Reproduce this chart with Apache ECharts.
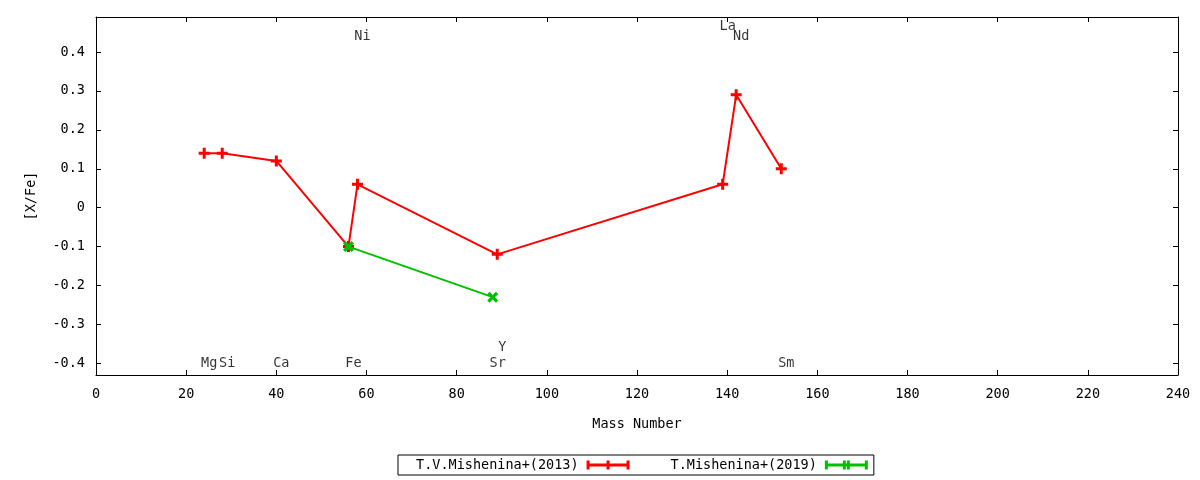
<!DOCTYPE html>
<html>
<head>
<meta charset="utf-8">
<script src="https://cdn.jsdelivr.net/npm/echarts@6/dist/echarts.min.js"></script>
<style>html,body{margin:0;padding:0;background:#fff;}#c{width:1200px;height:480px;}</style>
</head>
<body>
<div id="c"></div>
<script>
// Data
const redName = 'T.V.Mishenina+(2013)';
const greenName = 'T.Mishenina+(2019)';
const redMass = [24, 28, 40, 56, 58, 89, 139, 142, 152];
const redVal = [0.14, 0.14, 0.12, -0.10, 0.06, -0.12, 0.06, 0.29, 0.10];
const greenMass = [56, 88];
const greenVal = [-0.10, -0.23];
const elemNames = ['Mg', 'Si', 'Ca', 'Fe', 'Ni', 'Sr', 'Y', 'La', 'Nd', 'Sm'];
const elemMass = [24, 28, 40, 56, 58, 88, 89, 139, 142, 152];
const elemLabelY = [-0.4, -0.4, -0.4, -0.4, 0.44, -0.4, -0.36, 0.465, 0.44, -0.4];
const yTicks = [-0.4, -0.3, -0.2, -0.1, 0, 0.1, 0.2, 0.3, 0.4];

const FONT = 'DejaVu Sans Mono';
const plusSym = 'path://M4,0H7V4H11V7H7V11H4V7H0V4H4Z';
const crossSym = 'path://M0,2.5L2.5,0L6,3.5L9.5,0L12,2.5L8.5,6L12,9.5L9.5,12L6,8.5L2.5,12L0,9.5L3.5,6Z';
const redIcon = 'path://M0,0H3V9H0Z M3,3H40V6H3Z M40,0H43V9H40Z M20,0H23V9H20Z';
const greenIcon = 'path://M0,0H3V9H0Z M3,3H40V6H3Z M40,0H43V9H40Z M18,0H21V9H18Z M22,0H25V9H22Z';

const axisLineStyle = { show: true, onZero: false, lineStyle: { color: '#000', width: 1 } };
const tickStyle = { show: true, inside: true, length: 5, lineStyle: { color: '#000', width: 1 } };

const chart = echarts.init(document.getElementById('c'), null, { renderer: 'canvas' });
chart.setOption({
  backgroundColor: '#fff',
  animation: false,
  textStyle: { fontFamily: FONT },
  grid: { left: 96, top: 17, width: 1082, height: 358, containLabel: false },
  legend: {
    data: [
      { name: redName, icon: redIcon },
      { name: greenName, icon: greenIcon }
    ],
    left: 398, top: 455,
    align: 'right',
    itemWidth: 43, itemHeight: 9, itemGap: 41,
    padding: [3, 6, 3, 18],
    borderColor: '#000', borderWidth: 1, borderRadius: 0,
    textStyle: { fontFamily: FONT, fontSize: 13.5, color: '#000', padding: [0, 3, 0, 0] },
    selectedMode: false
  },
  xAxis: [
    {
      type: 'value', min: 0, max: 240, interval: 20, position: 'bottom',
      name: 'Mass Number', nameLocation: 'middle', nameGap: 42,
      nameTextStyle: { fontFamily: FONT, fontSize: 13.5, color: '#000' },
      axisLine: axisLineStyle, axisTick: tickStyle,
      axisLabel: { fontFamily: FONT, fontSize: 13.5, color: '#000', margin: 12 },
      splitLine: { show: false }
    },
    {
      type: 'value', min: 0, max: 240, interval: 20, position: 'top',
      axisLine: axisLineStyle, axisTick: tickStyle,
      axisLabel: { show: false }, splitLine: { show: false }
    }
  ],
  yAxis: [
    {
      type: 'value', min: -0.43, max: 0.49, position: 'left',
      name: '[X/Fe]', nameLocation: 'middle', nameGap: 58, nameRotate: 90,
      nameTextStyle: { fontFamily: FONT, fontSize: 13.5, color: '#000' },
      axisLine: axisLineStyle,
      axisTick: Object.assign({}, tickStyle, { customValues: yTicks }),
      axisLabel: {
        fontFamily: FONT, fontSize: 13.5, color: '#000', margin: 11,
        customValues: yTicks,
        formatter: v => String(Math.round(v * 10) / 10)
      },
      splitLine: { show: false }
    },
    {
      type: 'value', min: -0.43, max: 0.49, position: 'right',
      axisLine: axisLineStyle,
      axisTick: Object.assign({}, tickStyle, { customValues: yTicks }),
      axisLabel: { show: false, customValues: yTicks },
      splitLine: { show: false }
    }
  ],
  series: [
    {
      name: redName, type: 'line', xAxisIndex: 0, yAxisIndex: 0,
      data: redMass.map((m, i) => [m, redVal[i]]),
      color: '#ff0000',
      lineStyle: { color: '#ff0000', width: 2 },
      itemStyle: { color: '#ff0000' },
      symbol: plusSym, symbolSize: 11, showAllSymbol: true,
      z: 3
    },
    {
      name: greenName, type: 'line', xAxisIndex: 0, yAxisIndex: 0,
      data: greenMass.map((m, i) => [m, greenVal[i]]),
      color: '#00c000',
      lineStyle: { color: '#00c000', width: 2 },
      itemStyle: { color: '#00c000' },
      symbol: crossSym, symbolSize: 11, showAllSymbol: true,
      z: 4
    },
    {
      name: 'elements', type: 'scatter', xAxisIndex: 0, yAxisIndex: 0,
      symbolSize: 0, silent: true,
      data: elemNames.map((n, i) => ({ name: n, value: [elemMass[i], elemLabelY[i]] })),
      label: {
        show: true, position: 'inside', formatter: '{b}', offset: [5, 0],
        fontFamily: FONT, fontSize: 13.5, color: '#000'
      },
      z: 5
    }
  ]
});
</script>
</body>
</html>
